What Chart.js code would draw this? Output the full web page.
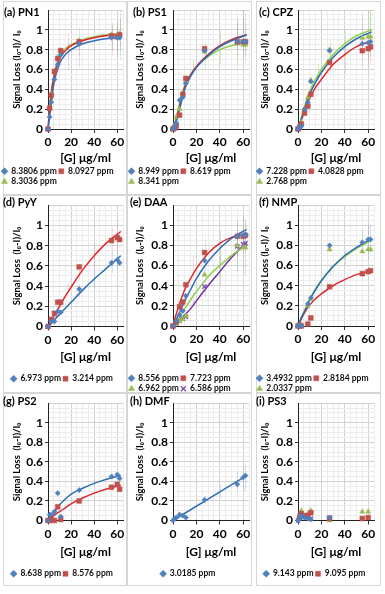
<!DOCTYPE html>
<html>
<head>
<meta charset="utf-8">
<script src="https://cdn.jsdelivr.net/npm/chart.js@4.4.1/dist/chart.umd.min.js"></script>
<style>
html, body { margin: 0; padding: 0; background: #fff; }
#fig { position: relative; width: 385px; height: 594px; overflow: hidden; font-family: Lato, "Liberation Sans", sans-serif; }
.box { position: absolute; border: 1px solid #d6d6d6; box-sizing: border-box; }
#fig canvas { position: absolute; }
.ttl { position: absolute; font-weight: bold; font-size: 11px; color: #000; white-space: nowrap; line-height: 12px; }
</style>
</head>
<body>
<div id="fig"></div>
<script>
(function() {
    'use strict';

    // concentrations [G] in µg/ml where points were measured
    var xConc = [0, 1.4, 2.8, 5.6, 8.4, 11, 27, 55, 60, 62];
    var fitX = [0, 2, 5, 10, 15, 20, 30, 40, 50, 63];
    var dmfFitX = [0, 63];

    // (a) PN1
    var pn1Labels = ['8.3806 ppm', '8.0927 ppm', '8.3036 ppm'];
    var pn1Blue = [0, 0.12, 0.27, 0.5, 0.65, 0.75, 0.86, 0.92, 0.92, 0.92];
    var pn1Red = [0, 0.21, 0.34, 0.58, 0.71, 0.79, 0.88, 0.94, 0.93, 0.95];
    var pn1Green = [0, 0.22, 0.35, 0.58, 0.72, 0.79, 0.89, 0.95, 0.95, 0.96];
    var pn1FitBlue = [0, 0.18, 0.45, 0.66, 0.75, 0.8, 0.86, 0.89, 0.91, 0.92];
    var pn1FitRed = [0, 0.27, 0.52, 0.71, 0.79, 0.84, 0.89, 0.92, 0.94, 0.95];
    var pn1FitGreen = [0, 0.29, 0.54, 0.73, 0.81, 0.85, 0.9, 0.93, 0.95, 0.96];
    var pn1ErrBlue = [[17, 0.6, 0.88], [27, 0.62, 0.92], [55, 0.8, 1.05], [60, 0.72, 1.1], [62, 0.78, 1.12]];
    var pn1ErrRed = [[17, 0.7, 0.95], [27, 0.74, 0.9], [55, 0.74, 1.0], [60, 0.76, 1.06], [62, 0.82, 1.1]];
    var pn1ErrGreen = [[27, 0.8, 1.02], [55, 0.86, 1.08], [62, 0.7, 1.2]];

    // (b) PS1
    var ps1Labels = ['8.949 ppm', '8.619 ppm', '8.341 ppm'];
    var ps1Blue = [0, 0.02, 0.06, 0.29, 0.32, 0.46, 0.79, 0.88, 0.88, 0.88];
    var ps1Red = [0, 0.01, 0.03, 0.14, 0.35, 0.51, 0.81, 0.88, 0.88, 0.88];
    var ps1Green = [0, 0.05, 0.12, 0.2, 0.36, 0.48, 0.78, 0.86, 0.85, 0.85];
    var ps1FitBlue = [0, 0.05, 0.17, 0.4, 0.53, 0.62, 0.74, 0.83, 0.89, 0.95];
    var ps1FitRed = [0, 0.06, 0.2, 0.42, 0.54, 0.63, 0.75, 0.84, 0.9, 0.95];
    var ps1FitGreen = [0, 0.08, 0.23, 0.44, 0.55, 0.63, 0.73, 0.8, 0.84, 0.88];
    var ps1ErrBlue = [[55, 0.72, 1.12], [60, 0.7, 1.2], [62, 0.74, 1.16]];
    var ps1ErrRed = [[17, 0.58, 0.68], [27, 0.72, 0.86], [40, 0.86, 1.0], [55, 0.8, 1.1], [60, 0.78, 1.12]];
    var ps1ErrGreen = [[17, 0.6, 0.7], [27, 0.58, 0.84], [40, 0.66, 0.95], [55, 0.62, 1.05], [62, 0.66, 1.08]];

    // (c) CPZ
    var cpzLabels = ['7.228 ppm', '4.0828 ppm', '2.768 ppm'];
    var cpzBlue = [0, 0.02, 0.03, 0.2, 0.27, 0.48, 0.79, 0.86, 0.87, 0.88];
    var cpzRed = [0, 0.02, 0.05, 0.16, 0.23, 0.35, 0.67, 0.79, 0.81, 0.83];
    var cpzGreen = [0, 0.03, 0.07, 0.2, 0.32, 0.49, 0.8, 0.92, 0.93, 0.93];
    var cpzFitBlue = [0, 0.07, 0.18, 0.35, 0.47, 0.57, 0.72, 0.83, 0.91, 0.98];
    var cpzFitRed = [0, 0.06, 0.16, 0.31, 0.42, 0.5, 0.65, 0.75, 0.83, 0.89];
    var cpzFitGreen = [0, 0.08, 0.2, 0.38, 0.5, 0.6, 0.75, 0.86, 0.94, 1.0];
    var cpzErrBlue = [[55, 0.74, 1.15], [62, 0.72, 1.18]];
    var cpzErrRed = [[17, 0.38, 0.46], [27, 0.56, 0.8], [40, 0.56, 0.9], [55, 0.62, 0.96], [60, 0.62, 0.98], [62, 0.66, 1.0]];
    var cpzErrGreen = [[17, 0.5, 0.66], [27, 0.62, 0.9], [40, 0.78, 1.0], [60, 0.7, 1.2], [62, 0.78, 1.2]];

    // (d) PyY
    var pyyLabels = ['6.973 ppm', '3.214 ppm'];
    var pyyBlue = [0, null, 0.05, 0.05, 0.15, 0.14, 0.37, 0.63, 0.66, 0.63];
    var pyyRed = [0, null, 0.07, 0.13, 0.24, 0.24, 0.59, 0.85, 0.88, 0.86];
    var pyyFitBlue = [0, 0.02, 0.06, 0.12, 0.18, 0.24, 0.36, 0.47, 0.57, 0.7];
    var pyyFitRed = [0, 0.04, 0.1, 0.2, 0.3, 0.39, 0.56, 0.7, 0.82, 0.94];
    var pyyErrBlue = [[27, 0.3, 0.42], [40, 0.38, 0.58], [55, 0.53, 0.74], [60, 0.57, 0.76]];
    var pyyErrRed = [[17, 0.35, 0.42], [27, 0.46, 0.6], [40, 0.58, 0.82], [55, 0.74, 0.98], [60, 0.74, 1.05]];

    // (e) DAA
    var daaLabels = ['8.556 ppm', '7.723 ppm', '6.962 ppm', '6.586 ppm'];
    var daaBlue = [0, null, 0.05, 0.11, 0.15, 0.3, 0.65, 0.89, 0.9, 0.91];
    var daaRed = [0, null, 0.04, 0.19, 0.24, 0.41, 0.73, 0.89, 0.89, 0.9];
    var daaGreen = [0, null, 0.02, 0.05, 0.07, 0.1, 0.51, 0.8, 0.78, 0.78];
    var daaPurple = [0, null, 0.03, 0.05, 0.07, 0.09, 0.39, 0.79, 0.81, 0.82];
    var daaFitBlue = [0, 0.05, 0.12, 0.25, 0.36, 0.47, 0.64, 0.77, 0.87, 0.96];
    var daaFitRed = [0, 0.09, 0.2, 0.36, 0.47, 0.57, 0.72, 0.82, 0.88, 0.91];
    var daaFitGreen = [0, 0.03, 0.08, 0.17, 0.26, 0.34, 0.49, 0.6, 0.7, 0.8];
    var daaFitPurple = [0, 0.02, 0.05, 0.11, 0.17, 0.25, 0.4, 0.54, 0.68, 0.83];
    var daaErrBlue = [[27, 0.55, 0.75], [40, 0.6, 0.96], [55, 0.7, 1.05], [60, 0.75, 1.1]];
    var daaErrRed = [[17, 0.45, 0.7], [27, 0.62, 0.86], [55, 0.72, 1.02], [62, 0.72, 1.06]];
    var daaErrGreen = [[40, 0.48, 0.78], [55, 0.55, 0.92], [60, 0.5, 1.05]];
    var daaErrPurple = [[17, 0.22, 0.34], [27, 0.28, 0.5], [40, 0.4, 0.7], [55, 0.55, 0.95], [62, 0.5, 1.05]];

    // (f) NMP
    var nmpLabels = ['3.4932 ppm', '2.8184 ppm', '2.0337 ppm'];
    var nmpBlue = [0, 0.01, 0, null, 0.22, 0.28, 0.8, 0.83, 0.86, 0.86];
    var nmpRed = [0, 0.01, 0, null, 0.02, 0.08, 0.39, 0.52, 0.54, 0.55];
    var nmpGreen = [0, 0.01, 0, null, 0.2, 0.27, 0.76, 0.74, 0.76, 0.76];
    var nmpFitBlue = [0, 0.06, 0.13, 0.26, 0.36, 0.45, 0.59, 0.7, 0.78, 0.87];
    var nmpFitRed = [0, 0.05, 0.12, 0.21, 0.27, 0.32, 0.4, 0.46, 0.51, 0.55];
    var nmpFitGreen = [0, 0.06, 0.14, 0.26, 0.37, 0.45, 0.59, 0.69, 0.77, 0.85];
    var nmpErrBlue = [[27, 0.5, 0.6], [40, 0.6, 0.76], [55, 0.74, 0.95], [60, 0.66, 1.0], [62, 0.72, 1.0]];

    // (g) PS2
    var ps2Labels = ['8.638 ppm', '8.576 ppm'];
    var ps2Blue = [0, 0.06, 0.06, 0.09, 0.28, 0.04, 0.31, 0.45, 0.47, 0.43];
    var ps2Red = [0, 0, 0.01, 0, 0.14, 0.01, 0.2, 0.34, 0.37, 0.32];
    var ps2FitBlue = [0, 0.03, 0.08, 0.16, 0.22, 0.27, 0.33, 0.38, 0.42, 0.46];
    var ps2FitRed = [0, 0.02, 0.05, 0.09, 0.13, 0.17, 0.23, 0.28, 0.32, 0.36];
    var ps2ErrBlue = [[27, 0.28, 0.34], [40, 0.35, 0.42], [55, 0.42, 0.48]];

    // (h) DMF
    var dmfLabels = ['3.0185 ppm'];
    var dmfBlue = [0, 0.02, 0.03, 0.06, 0.05, 0.03, 0.21, 0.37, 0.44, 0.46];
    var dmfFitBlue = [0, 0.46];
    var dmfErrBlue = [[27, 0.18, 0.25], [40, 0.23, 0.37], [55, 0.3, 0.5], [60, 0.3, 0.56], [62, 0.3, 0.58]];

    // (i) PS3
    var ps3Labels = ['9.143 ppm', '9.095 ppm', '', ''];
    var ps3Blue = [0, 0.02, 0.05, 0.03, 0.02, 0.01, 0.03, null, null, null];
    var ps3Red = [null, 0.03, 0.07, 0.05, 0.05, 0.08, 0.02, 0.02, 0.03, null];
    var ps3Green = [null, 0.05, 0.1, 0.03, 0.07, 0.1, 0, 0.09, 0.09, null];
    var ps3Purple = [0, 0.05, 0.07, 0.04, 0.03, 0.02, 0.03, null, null, null];

    var STYLE = {
        blue:   { pt: 'rectRot',  fill: '#4F81BD', line: '#2E6DB4', err: 'rgba(79,129,189,0.22)', r: 2.6 },
        red:    { pt: 'rect',     fill: '#C0504D', line: '#E0262B', err: 'rgba(230,100,100,0.22)', r: 3.4 },
        green:  { pt: 'triangle', fill: '#9BBB59', line: '#92D050', err: 'rgba(146,208,80,0.3)', r: 3 },
        purple: { pt: 'crossRot', fill: '#7F4FB0', line: '#7030A0', err: 'rgba(150,110,190,0.22)', r: 3 }
    };

    // layout of the 3x3 grid
    var COLS = [
        { left: 0,   width: 127, yW: 48, padR: 3, tPad: 11.5, box: [3, 124] },
        { left: 127, width: 128, yW: 46, padR: 6, tPad: 7.5,  box: [127, 125] },
        { left: 255, width: 130, yW: 43, padR: 11, tPad: 4.5, box: [256, 125] }
    ];
    var ROWS = [
        { top: 0,   padT: 10, bottom: 129, xH: 36, xPadB: 0, box: [1, 194] },
        { top: 196, padT: 3,  bottom: 130, xH: 46, xPadB: 8, box: [195, 198] },
        { top: 394, padT: 5,  bottom: 126, xH: 47, xPadB: 8.5, box: [393, 193] }
    ];
    var LEG_FS = 8.5, LEG_PAD = 2;

    var yTitleA = 'Signal Loss (I\u2080-I)/ I\u2080';
    var yTitleB = 'Signal Loss  (I\u2080-I)/I\u2080';

    var panels = [
        { title: '(a) PN1', col: 0, row: 0, tx: 4, ty: 6, yt: yTitleA, labels: pn1Labels, rows: 2,
          series: [['blue', pn1Blue, pn1FitBlue, pn1ErrBlue], ['red', pn1Red, pn1FitRed, pn1ErrRed], ['green', pn1Green, pn1FitGreen, pn1ErrGreen]] },
        { title: '(b) PS1', col: 1, row: 0, tx: 6, ty: 6, yt: yTitleA, labels: ps1Labels, rows: 2,
          series: [['blue', ps1Blue, ps1FitBlue, ps1ErrBlue], ['red', ps1Red, ps1FitRed, ps1ErrRed], ['green', ps1Green, ps1FitGreen, ps1ErrGreen]] },
        { title: '(c) CPZ', col: 2, row: 0, tx: 4, ty: 6, yt: yTitleA, labels: cpzLabels, rows: 2,
          series: [['blue', cpzBlue, cpzFitBlue, cpzErrBlue], ['red', cpzRed, cpzFitRed, cpzErrRed], ['green', cpzGreen, cpzFitGreen, cpzErrGreen]] },
        { title: '(d) PyY', col: 0, row: 1, tx: 3, ty: 0, yt: yTitleB, labels: pyyLabels, rows: 1,
          series: [['blue', pyyBlue, pyyFitBlue, pyyErrBlue], ['red', pyyRed, pyyFitRed, pyyErrRed]] },
        { title: '(e) DAA', col: 1, row: 1, tx: 3, ty: 0, yt: yTitleB, labels: daaLabels, rows: 2,
          series: [['blue', daaBlue, daaFitBlue, daaErrBlue], ['red', daaRed, daaFitRed, daaErrRed], ['green', daaGreen, daaFitGreen, daaErrGreen], ['purple', daaPurple, daaFitPurple, daaErrPurple]] },
        { title: '(f) NMP', col: 2, row: 1, tx: 4, ty: 0, yt: yTitleA, labels: nmpLabels, rows: 2,
          series: [['blue', nmpBlue, nmpFitBlue, nmpErrBlue], ['red', nmpRed, nmpFitRed, null], ['green', nmpGreen, nmpFitGreen, null]] },
        { title: '(g) PS2', col: 0, row: 2, tx: 3, ty: 1, yt: yTitleB, labels: ps2Labels, rows: 1,
          series: [['blue', ps2Blue, ps2FitBlue, ps2ErrBlue], ['red', ps2Red, ps2FitRed, null]] },
        { title: '(h) DMF', col: 1, row: 2, tx: 3, ty: 1, yt: yTitleB, labels: dmfLabels, rows: 1, fx: dmfFitX,
          series: [['blue', dmfBlue, dmfFitBlue, dmfErrBlue]] },
        { title: '(i) PS3', col: 2, row: 2, tx: 1, ty: 1, yt: yTitleB, labels: ps3Labels, rows: 1,
          series: [['blue', ps3Blue, null, null], ['red', ps3Red, null, null], ['green', ps3Green, null, null], ['purple', ps3Purple, null, null]] }
    ];

    // faint vertical error bars, drawn under the markers
    var errorBars = {
        id: 'errorBars',
        beforeDatasetsDraw: function(chart) {
            var ctx = chart.ctx, xs = chart.scales.x, ys = chart.scales.y;
            ctx.save();
            ctx.lineWidth = 1;
            chart.data.datasets.forEach(function(ds) {
                if (!ds.errs) return;
                ctx.strokeStyle = ds.errColor;
                ds.errs.forEach(function(e) {
                    var px = Math.round(xs.getPixelForValue(e[0])) + 0.5;
                    ctx.beginPath();
                    ctx.moveTo(px, ys.getPixelForValue(e[1]));
                    ctx.lineTo(px, ys.getPixelForValue(e[2]));
                    ctx.stroke();
                });
            });
            ctx.restore();
        }
    };

    Chart.defaults.font.family = 'Lato, "Liberation Sans", sans-serif';
    Chart.defaults.color = '#000';

    var fig = document.getElementById('fig');

    function isMajorY(v) { return Math.round(v * 100) % 20 === 0; }
    function isMajorX(v) { return Math.round(v) % 20 === 0; }

    panels.forEach(function(p) {
        var c = COLS[p.col], r = ROWS[p.row];

        var box = document.createElement('div');
        box.className = 'box';
        box.style.left = c.box[0] + 'px';
        box.style.width = c.box[1] + 'px';
        box.style.top = r.box[0] + 'px';
        box.style.height = r.box[1] + 'px';
        fig.appendChild(box);

        var h = Math.round(r.bottom + r.xH + p.rows * (LEG_FS + LEG_PAD) + 10);
        var cv = document.createElement('canvas');
        cv.width = c.width;
        cv.height = h;
        cv.style.left = c.left + 'px';
        cv.style.top = r.top + 'px';
        cv.style.width = c.width + 'px';
        cv.style.height = h + 'px';
        fig.appendChild(cv);

        var t = document.createElement('div');
        t.className = 'ttl';
        t.textContent = p.title;
        t.style.left = (c.left + p.tx) + 'px';
        t.style.top = (r.top + p.ty) + 'px';
        fig.appendChild(t);

        var datasets = [];
        p.series.forEach(function(s, i) {
            var st = STYLE[s[0]];
            var pts = [];
            s[1].forEach(function(y, k) { if (y !== null) pts.push({ x: xConc[k], y: y }); });
            datasets.push({
                label: p.labels[i],
                data: pts,
                inLegend: !!p.labels[i],
                pointStyle: st.pt,
                pointRadius: st.r,
                pointHoverRadius: st.r,
                backgroundColor: st.fill,
                borderColor: st.fill,
                borderWidth: s[0] === 'purple' ? 1.4 : 0.5,
                showLine: false,
                clip: false,
                order: 0,
                errs: s[3],
                errColor: st.err
            });
        });
        p.series.forEach(function(s) {
            if (!s[2]) return;
            var st = STYLE[s[0]];
            var fx = p.fx || fitX;
            datasets.push({
                label: 'fit',
                data: fx.map(function(x, k) { return { x: x, y: s[2][k] }; }),
                inLegend: false,
                showLine: true,
                pointRadius: 0,
                borderColor: st.line,
                backgroundColor: st.line,
                borderWidth: 1.5,
                cubicInterpolationMode: 'monotone',
                fill: false,
                clip: false,
                order: 1
            });
        });

        new Chart(cv, {
            type: 'scatter',
            data: { datasets: datasets },
            plugins: [errorBars],
            options: {
                responsive: false,
                animation: false,
                events: [],
                layout: { padding: { top: r.padT, left: 0, right: c.padR, bottom: 0 } },
                plugins: {
                    tooltip: { enabled: false },
                    legend: {
                        position: 'bottom',
                        align: p.rows > 1 ? 'start' : 'center',
                        labels: {
                            usePointStyle: true,
                            boxWidth: 5,
                            boxHeight: 5,
                            padding: LEG_PAD,
                            color: '#111',
                            font: { size: LEG_FS, weight: 'bold' },
                            filter: function(item, data) { return data.datasets[item.datasetIndex].inLegend; }
                        }
                    }
                },
                scales: {
                    x: {
                        type: 'linear',
                        min: 0,
                        max: 65,
                        afterFit: function(s) { s.height = r.xH; },
                        ticks: {
                            stepSize: 5,
                            autoSkip: false,
                            maxRotation: 0,
                            padding: 2,
                            font: { size: 12, weight: 'bold' },
                            callback: function(v) { return (isMajorX(v) && v <= 60) ? String(v) : ''; }
                        },
                        grid: {
                            color: function(ctx) { return ctx.tick && isMajorX(ctx.tick.value) ? '#d2d2d2' : '#ececec'; },
                            tickColor: function(ctx) { return ctx.tick && isMajorX(ctx.tick.value) && ctx.tick.value <= 60 ? '#333' : 'rgba(0,0,0,0)'; },
                            tickLength: 4
                        },
                        border: { color: '#222', width: 1 },
                        title: {
                            display: true,
                            text: '[G] \u03bcg/ml',
                            padding: { top: 0, bottom: r.xPadB },
                            font: { size: 12, weight: 'bold' }
                        }
                    },
                    y: {
                        type: 'linear',
                        min: 0,
                        max: 1.2,
                        afterFit: function(s) { s.width = c.yW; },
                        ticks: {
                            stepSize: 0.05,
                            autoSkip: false,
                            padding: 2,
                            font: { size: 12, weight: 'bold' },
                            callback: function(v) {
                                var k = Math.round(v * 100);
                                return (k % 20 === 0 && k <= 100) ? String(k / 100) : '';
                            }
                        },
                        grid: {
                            color: function(ctx) { return ctx.tick && isMajorY(ctx.tick.value) ? '#d2d2d2' : '#ececec'; },
                            tickColor: function(ctx) { return ctx.tick && isMajorY(ctx.tick.value) && ctx.tick.value < 1.1 ? '#333' : 'rgba(0,0,0,0)'; },
                            tickLength: 3
                        },
                        border: { color: '#222', width: 1 },
                        title: {
                            display: true,
                            text: p.yt,
                            padding: { top: c.tPad, bottom: 0 },
                            font: { size: 9.5, weight: 'bold' }
                        }
                    }
                }
            }
        });
    });
})();
</script>
</body>
</html>
